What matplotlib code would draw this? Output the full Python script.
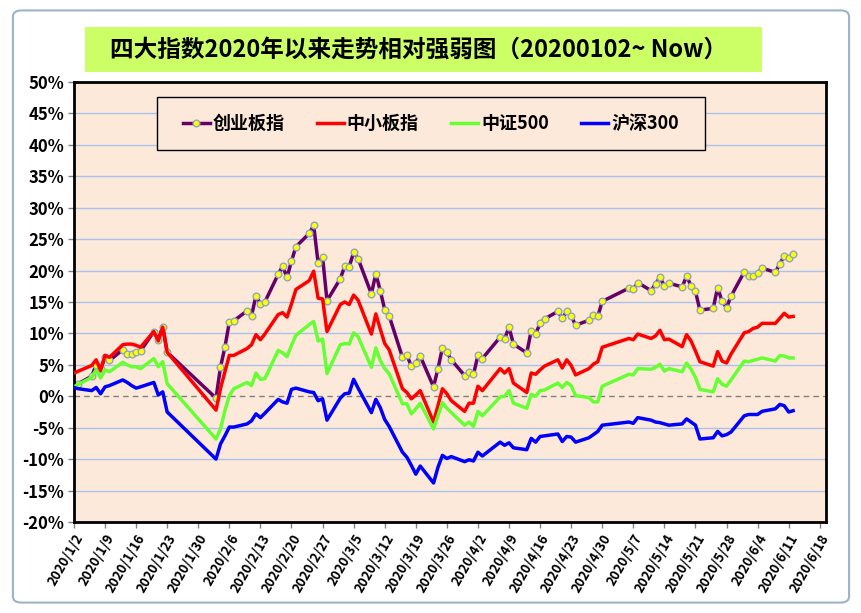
import matplotlib
matplotlib.use("Agg")
import matplotlib.pyplot as plt
from matplotlib.patches import Rectangle, FancyBboxPatch
import pandas as pd

plt.rcParams['font.family'] = ['Noto Sans CJK SC', 'DejaVu Sans']
plt.rcParams['font.weight'] = 'bold'

# trading days 2020/1/2 ~ 2020/6/12
days_jan = [2, 3, 6, 7, 8, 9, 10, 13, 14, 15, 16, 17, 20, 21, 22, 23]
days_feb = [3, 4, 5, 6, 7, 10, 11, 12, 13, 14, 17, 18, 19, 20, 21, 24, 25, 26, 27, 28]
days_mar = [2, 3, 4, 5, 6, 9, 10, 11, 12, 13, 16, 17, 18, 19, 20, 23, 24, 25, 26, 27, 30, 31]
days_apr = [1, 2, 3, 7, 8, 9, 10, 13, 14, 15, 16, 17, 20, 21, 22, 23, 24, 27, 28, 29, 30]
days_may = [6, 7, 8, 11, 12, 13, 14, 15, 18, 19, 20, 21, 22, 25, 26, 27, 28, 29]
days_jun = [1, 2, 3, 4, 5, 8, 9, 10, 11, 12]

# 创业板指 (%)
cyb = [1.7, 2.0, 3.2, 5.0, 4.3, 6.3, 5.7, 7.4, 6.8, 6.8, 7.1, 7.2, 10.3, 9.0, 11.1, 7.0,
       -0.3, 4.6, 7.8, 11.8, 12.0, 13.6, 12.8, 16.0, 14.7, 15.0, 19.4, 20.7, 18.9, 21.5, 23.8,
       25.9, 27.2, 21.2, 22.2, 15.2,
       18.7, 20.7, 20.6, 22.9, 21.9, 16.3, 19.5, 16.8, 13.8, 12.8, 6.2, 6.5, 4.8, 5.3, 6.4,
       1.5, 4.4, 7.7, 7.0, 5.8, 3.3, 3.9,
       3.5, 6.5, 6.0, 9.4, 9.1, 11.0, 8.3, 6.9, 10.4, 9.9, 11.6, 12.3, 13.5, 12.4, 13.5,
       12.8, 11.3, 12.1, 12.9, 12.7, 15.1,
       17.2, 17.0, 18.1, 16.8, 17.9, 18.9, 17.6, 18.0, 17.4, 19.1, 17.6, 16.7, 13.7, 14.0,
       17.3, 15.1, 14.1, 15.9,
       19.8, 19.2, 19.1, 19.6, 20.4, 19.7, 21.1, 22.3, 22.0, 22.6]

# 中小板指 (%)
zxb = [3.7, 4.0, 4.9, 5.8, 4.1, 6.5, 6.2, 8.2, 8.3, 8.3, 8.1, 7.8, 10.3, 8.8, 11.0, 7.0,
       -2.2, 1.2, 3.9, 6.5, 6.5, 7.6, 8.2, 9.8, 9.0, 9.9, 13.0, 13.3, 12.6, 14.7, 17.0,
       18.4, 19.9, 15.6, 15.5, 10.3,
       14.6, 15.0, 14.6, 16.1, 15.3, 9.9, 13.1, 10.7, 8.4, 7.4, 1.2, 0.6, -0.4, 0.2, 0.9,
       -4.1, -1.5, 1.2, 0.4, -0.7, -2.4, -1.1,
       -1.1, 1.6, 0.9, 4.4, 3.7, 4.4, 2.1, 0.6, 3.7, 3.5, 4.2, 4.8, 5.8, 4.5, 5.8,
       4.9, 3.4, 4.4, 5.1, 5.5, 7.8,
       9.2, 9.0, 9.9, 9.2, 9.6, 10.5, 9.0, 9.1, 7.9, 9.8, 8.8, 7.2, 5.5, 4.8,
       7.1, 5.6, 5.3, 6.7,
       10.1, 10.3, 10.8, 11.0, 11.6, 11.6, 12.4, 13.2, 12.6, 12.7]

# 中证500 (%)
zz500 = [1.5, 1.9, 3.0, 4.2, 2.9, 4.2, 3.9, 5.4, 5.0, 4.7, 4.7, 4.4, 6.0, 4.7, 5.5, 2.0,
         -6.8, -5.2, -2.3, 0.1, 1.2, 2.2, 1.7, 3.7, 2.7, 2.8, 7.3, 6.9, 6.3, 8.1, 9.7,
         11.4, 11.9, 8.8, 9.1, 3.6,
         8.2, 8.4, 8.3, 10.1, 9.5, 4.6, 7.7, 5.7, 4.4, 3.6, -1.2, -1.2, -2.8, -2.0, -1.1,
         -5.2, -3.1, -1.0, -1.9, -2.6, -4.6, -4.1,
         -4.8, -2.4, -3.1, -0.1, 0.0, 0.9, -1.1, -1.9, 0.3, 0.0, 0.9, 1.0, 2.1, 1.4, 2.2,
         1.7, 0.1, -0.2, -0.9, -0.9, 1.6,
         3.5, 3.4, 4.4, 4.3, 4.6, 5.1, 4.0, 4.4, 3.9, 5.3, 4.3, 3.0, 1.1, 0.7,
         2.8, 1.9, 1.6, 2.6,
         5.6, 5.5, 5.7, 5.9, 6.1, 5.6, 6.5, 6.4, 6.1, 6.1]

# 沪深300 (%)
hs300 = [1.4, 1.2, 0.9, 1.4, 0.4, 1.5, 1.7, 2.6, 2.2, 1.7, 1.3, 1.5, 2.2, 0.2, 0.7, -2.5,
         -10.0, -7.6, -6.3, -4.9, -4.9, -4.4, -3.9, -2.8, -3.4, -2.7, -0.5, -0.9, -1.1, 1.1, 1.3,
         0.7, 0.6, -0.7, -0.4, -3.8,
         -0.3, 0.4, 0.5, 2.7, 1.3, -2.6, -0.5, -1.8, -3.7, -4.8, -8.9, -9.7, -11.0, -12.4, -11.1,
         -13.8, -11.3, -9.4, -9.9, -9.6, -10.4, -10.1,
         -10.3, -8.9, -9.5, -7.3, -7.8, -7.4, -8.2, -8.5, -6.7, -7.3, -6.4, -6.3, -6.0, -7.2, -6.4,
         -6.5, -7.3, -6.6, -6.1, -5.6, -4.6,
         -4.1, -4.3, -3.4, -3.8, -4.1, -4.2, -4.4, -4.6, -4.4, -3.6, -4.1, -4.6, -6.8, -6.6,
         -5.6, -6.3, -6.1, -5.7,
         -3.1, -2.9, -2.9, -2.9, -2.4, -2.0, -1.3, -1.5, -2.5, -2.3]

series_names = ["创业板指", "中小板指", "中证500", "沪深300"]
colors = ["#660066", "#FF0000", "#66FF33", "#0000FF"]
title = "四大指数2020年以来走势相对强弱图（20200102~ Now）"
y_ticks = list(range(-20, 55, 5))

dates = []
for m, days in zip([1, 2, 3, 4, 5, 6], [days_jan, days_feb, days_mar, days_apr, days_may, days_jun]):
    dates += [pd.Timestamp(2020, m, d) for d in days]

x_ticks = pd.date_range("2020-01-02", "2020-06-18", freq="7D")

fig = plt.figure(figsize=(8.62, 6.13), dpi=100)
fig.patch.set_facecolor("white")

# outer chart frame
fig.patches.append(FancyBboxPatch((0.015, 0.017), 0.97, 0.966, boxstyle="round,pad=0,rounding_size=0.01",
                                  transform=fig.transFigure, fill=False, edgecolor="#9DB3CC", lw=1.5))

# title box
fig.patches.append(Rectangle((0.0986, 0.8825), 0.785, 0.0734, transform=fig.transFigure,
                             facecolor="#CCFF66", edgecolor="none"))
fig.text(0.486, 0.919, title, ha="center", va="center", fontsize=17, fontweight="bold")

ax = fig.add_axes([0.0858, 0.1485, 0.8724, 0.7177])
ax.set_facecolor("#FDE9D9")

for v in y_ticks:
    if v == 0:
        ax.axhline(0, color="#808080", lw=1, ls=(0, (4, 3)), zorder=1)
    else:
        ax.axhline(v, color="#A9C2EC", lw=1, zorder=1)

ax.plot(dates, cyb, color=colors[0], lw=2.5, marker="o", ms=4.8, mfc="#FFFF00", mec="#8FA6C0",
        mew=1, label=series_names[0], zorder=2)
ax.plot(dates, zxb, color=colors[1], lw=2.5, label=series_names[1], zorder=3)
ax.plot(dates, zz500, color=colors[2], lw=2.5, label=series_names[2], zorder=4)
ax.plot(dates, hs300, color=colors[3], lw=2.5, label=series_names[3], zorder=5)

ax.set_ylim(-20, 50)
ax.set_yticks(y_ticks)
ax.set_yticklabels([f"{v}%" for v in y_ticks], fontsize=12, fontweight="bold")

ax.set_xlim(pd.Timestamp("2020-01-02"), pd.Timestamp("2020-06-18") + pd.Timedelta(days=1.4))
ax.set_xticks(x_ticks)
ax.set_xticklabels([f"{d.year}/{d.month}/{d.day}" for d in x_ticks], rotation=60,
                   ha="right", rotation_mode="anchor", fontsize=9.5, fontweight="bold")
ax.tick_params(axis="both", length=4, width=1, color="#808080", pad=3)

for s in ax.spines.values():
    s.set_color("black")
    s.set_linewidth(2)

# legend box
ax.add_patch(Rectangle((0.110, 0.845), 0.729, 0.121, transform=ax.transAxes, facecolor="#FDE9D9",
                       edgecolor="black", lw=1, zorder=6))
leg = ax.legend(loc="center", bbox_to_anchor=(0.4745, 0.9055), ncol=4, frameon=False,
                prop={"size": 13, "weight": "bold"}, handlelength=1.5, handletextpad=0.15,
                columnspacing=1.8, borderaxespad=0)
leg.set_zorder(7)

fig.savefig("out.png", dpi=100)
